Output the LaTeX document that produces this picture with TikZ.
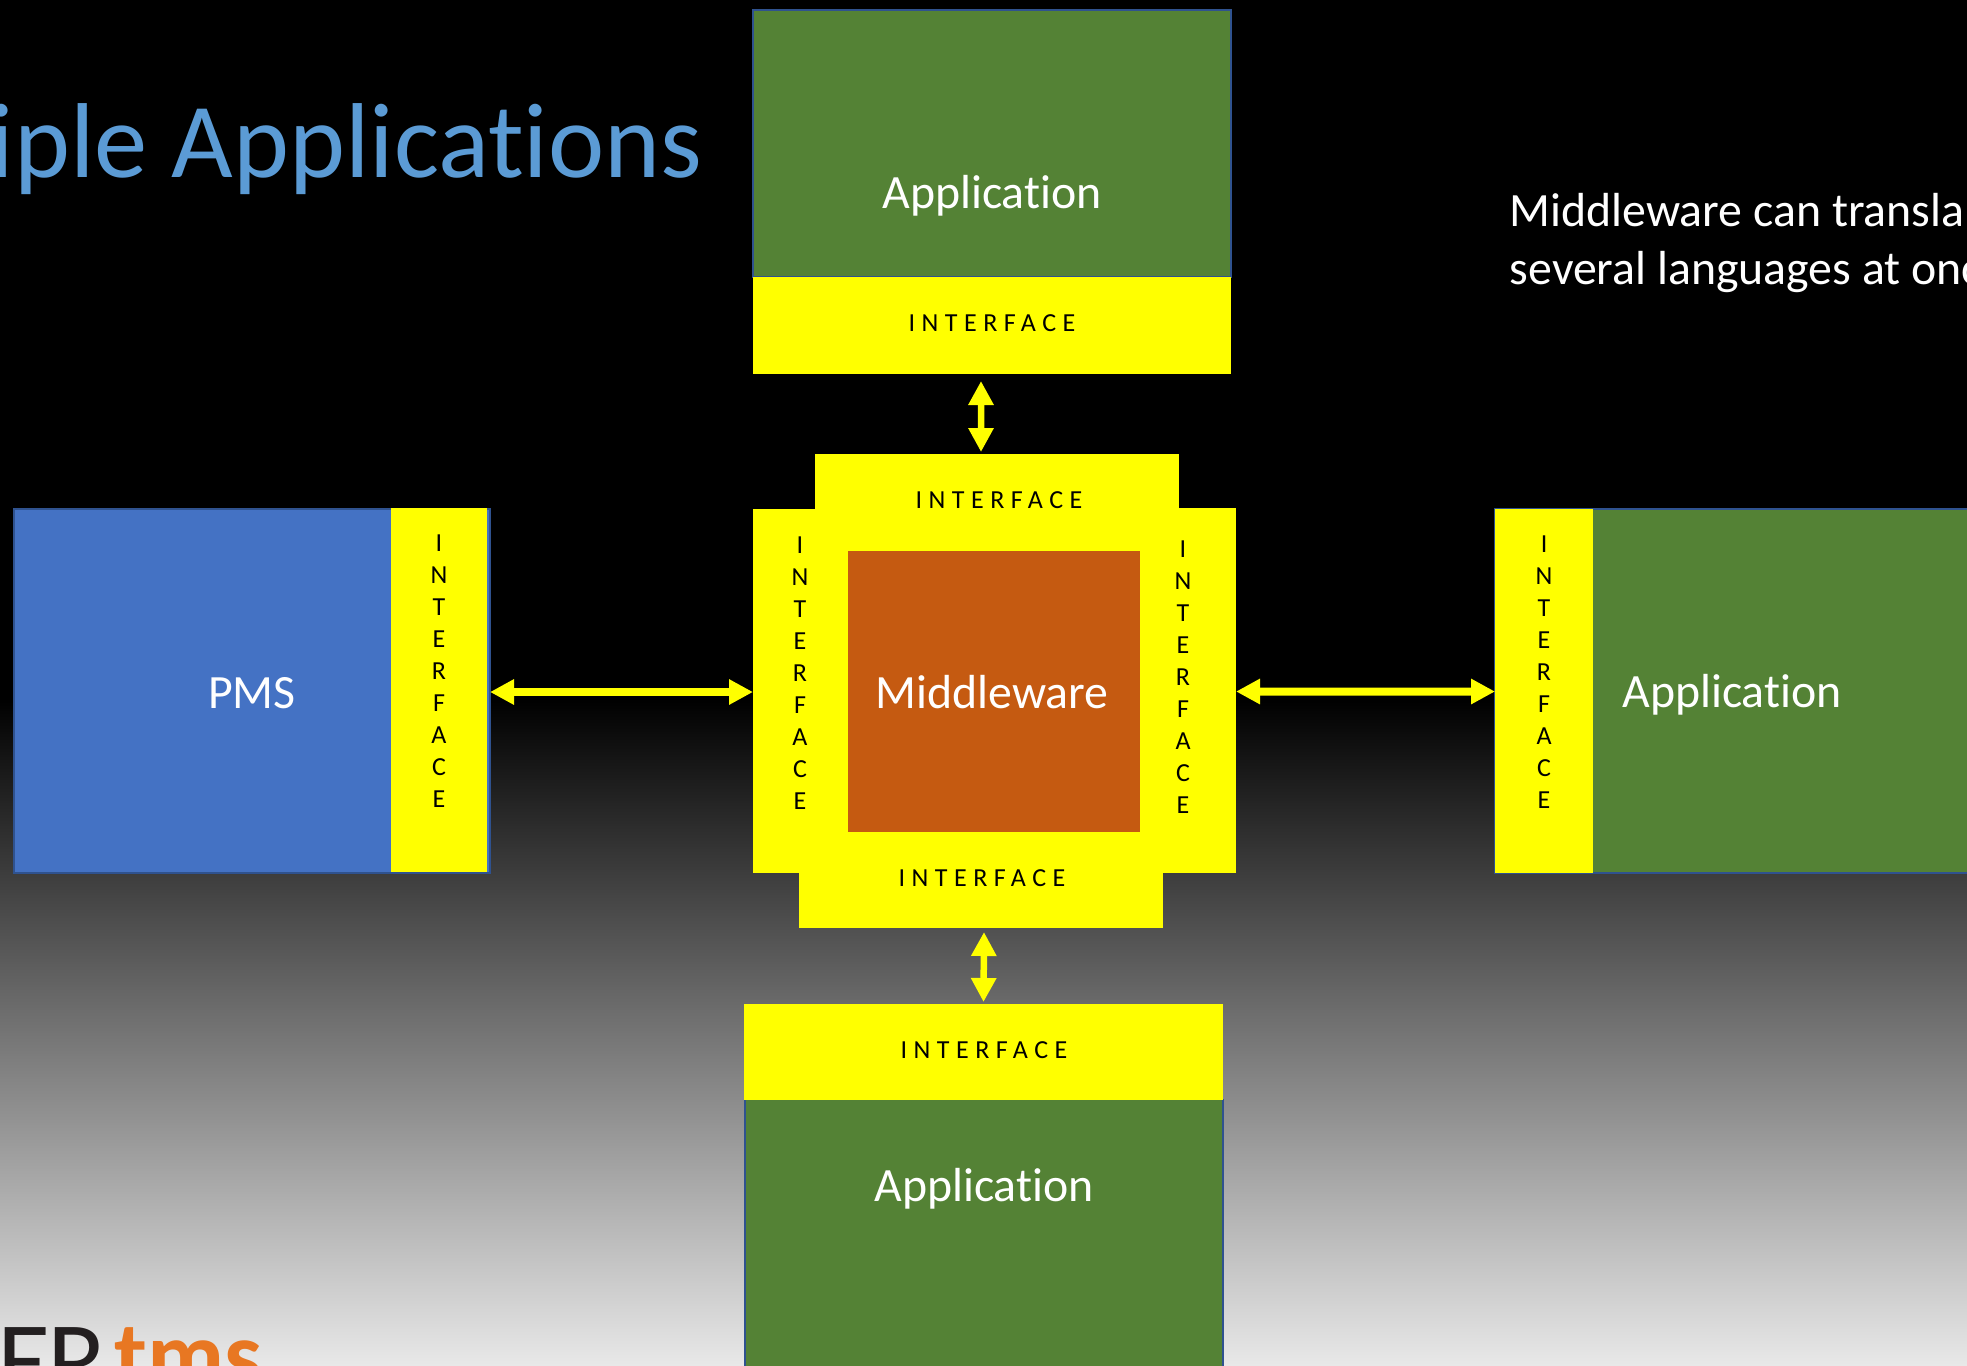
\documentclass[tikz,border=0pt]{standalone}
\usepackage{fontspec}
\setmainfont[Ligatures=NoCommon]{Carlito}
\newfontfamily\ifacefont[LetterSpace=25]{Carlito}
\usetikzlibrary{arrows.meta, positioning}
\definecolor{appgreen}{HTML}{548235}
\definecolor{pmsblue}{HTML}{4472C4}
\definecolor{edgeblue}{HTML}{2F528F}
\definecolor{midorange}{HTML}{C55A11}
\definecolor{titleblue}{HTML}{5B9BD5}
\definecolor{ifyellow}{RGB}{255,255,0}
\definecolor{logoorange}{HTML}{E87722}
\definecolor{logodark}{HTML}{231F20}
\newcommand{\horiface}{\ifacefont INTERFACE}
\newcommand{\vertiface}{I\\N\\T\\E\\R\\F\\A\\C\\E}
\tikzset{
  box/.style={inner sep=0pt, outer sep=0pt, minimum width=#1},
  appbox/.style={box=#1, fill=appgreen, draw=edgeblue, line width=.5pt},
  pmsbox/.style={box=#1, fill=pmsblue, draw=edgeblue, line width=.8pt},
  ifbox/.style={box=#1, fill=ifyellow},
  midbox/.style={box=#1, fill=midorange},
  biglabel/.style={text=white, inner sep=0pt, font=\fontsize{13.6}{16}\selectfont},
  hlabel/.style={text=black, font=\fontsize{7.4}{9}\selectfont},
  vlabel/.style={text=black, align=center, font=\fontsize{7.4}{9.1}\selectfont},
  twoway/.style={{Triangle[length=.24cm,width=.24cm]}-{Triangle[length=.24cm,width=.24cm]}, ifyellow, line width=.08cm},
  updown/.style={{Triangle[length=.24cm,width=.24cm]}-{Triangle[length=.24cm,width=.24cm]}, ifyellow, line width=.065cm}
}
\begin{document}
\begin{tikzpicture}
  \useasboundingbox (0,0) rectangle (19.67,-13.65);
  % Background
  \fill[black] (0,0) rectangle (19.67,-7);
  \shade[top color=black, bottom color=black!9] (0,-6.98) rectangle (19.67,-13.65);

  % Title and note
  \node[anchor=base east, inner sep=0pt, text=titleblue, font=\fontsize{30.3}{36}\selectfont] (title) at (7.03,-1.77) {iple Applications};
  \node[anchor=base west, biglabel] (noteone) at (15.09,-2.26) {Middleware can transla};
  \node[anchor=base west, biglabel] (notetwo) at (15.09,-2.84) {several languages at onc};

  % Top application
  \node[appbox=4.78cm, minimum height=2.67cm] (apptop) at (9.92,-1.435) {};
  \node[ifbox=4.78cm, minimum height=.97cm] (apptopif) at (9.92,-3.255) {};
  \node[biglabel] (apptoptext) at (9.92,-1.96) {Application};
  \node[hlabel] (apptopiftext) at (9.92,-3.23) {\horiface};

  % PMS
  \node[pmsbox=4.76cm, minimum height=3.64cm] (pms) at (2.52,-6.91) {};
  \node[ifbox=.96cm, minimum height=3.64cm] (pmsif) at (4.39,-6.9) {};
  \node[biglabel] (pmstext) at (2.52,-6.93) {PMS};
  \node[vlabel] (pmsiftext) at (4.39,-6.71) {\vertiface};

  % Middleware, four sides first
  \node[ifbox=.95cm, minimum height=3.64cm] (midleft) at (8.005,-6.91) {};
  \node[ifbox=.96cm, minimum height=3.65cm] (midright) at (11.88,-6.905) {};
  \node[ifbox=3.64cm, minimum height=.98cm] (midtop) at (9.97,-5.03) {};
  \node[ifbox=3.64cm, minimum height=.97cm] (midbottom) at (9.81,-8.795) {};
  \node[midbox=2.92cm, minimum height=2.81cm] (mid) at (9.94,-6.915) {};
  \node[biglabel] (midtext) at (9.92,-6.92) {Middleware};
  \node[hlabel] (midtoptext) at (9.99,-5.0) {\horiface};
  \node[hlabel] (midbottomtext) at (9.82,-8.78) {\horiface};
  \node[vlabel] (midlefttext) at (8.0,-6.73) {\vertiface};
  \node[vlabel] (midrighttext) at (11.83,-6.77) {\vertiface};

  % Right application
  \node[appbox=4.75cm, minimum height=3.64cm] (appright) at (17.32,-6.91) {};
  \node[ifbox=.98cm, minimum height=3.64cm] (apprightif) at (15.44,-6.91) {};
  \node[biglabel] (apprighttext) at (17.32,-6.95) {Application};
  \node[vlabel] (apprightiftext) at (15.44,-6.72) {\vertiface};

  % Bottom application
  \node[appbox=4.78cm, minimum height=2.67cm] (appbottom) at (9.84,-12.33) {};
  \node[ifbox=4.79cm, minimum height=.96cm] (appbottomif) at (9.835,-10.52) {};
  \node[biglabel] (appbottomtext) at (9.84,-11.89) {Application};
  \node[hlabel] (appbottomiftext) at (9.84,-10.50) {\horiface};

  % Connectors
  \draw[twoway] ([yshift=-.01cm]pms.east) -- ([yshift=-.01cm]midleft.west);
  \draw[twoway] ([yshift=-.01cm]midright.east) -- ([yshift=-.005cm]apprightif.west);
  \draw[updown] ([xshift=-.11cm,yshift=-.07cm]apptopif.south) -- ([xshift=-.16cm,yshift=.02cm]midtop.north);
  \draw[updown] ([xshift=.03cm,yshift=-.04cm]midbottom.south) -- ([yshift=.02cm]appbottomif.north);

  % Logo
  \node[anchor=base west, inner sep=0pt, text=logodark, font=\fontsize{31}{31}\selectfont] (logoer) at (-.03,-13.97) {E\kern-.03emR};
  \node[anchor=base west, inner sep=0pt, text=logoorange, font=\fontsize{27}{28}\bfseries\selectfont] (logotms) at (1.14,-13.87) {tms};
\end{tikzpicture}
\end{document}
